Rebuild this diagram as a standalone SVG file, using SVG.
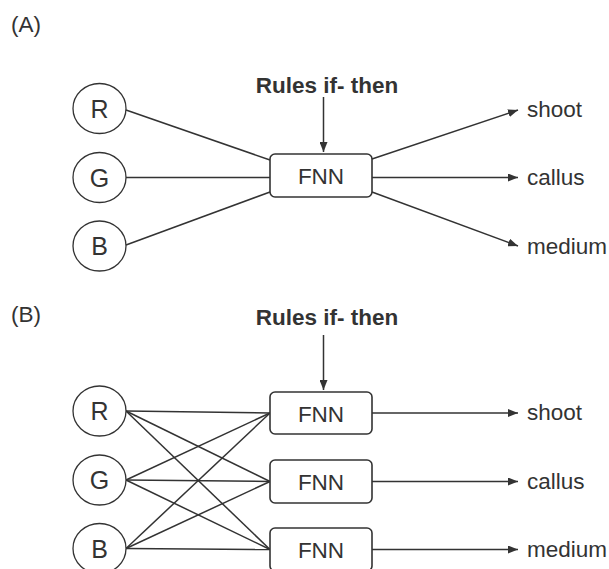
<svg xmlns="http://www.w3.org/2000/svg" width="609" height="569" viewBox="0 0 609 569">
  <defs>
    <marker id="arrow" markerWidth="10" markerHeight="8" refX="10" refY="4" orient="auto" markerUnits="userSpaceOnUse">
      <path d="M0,0 L10,4 L0,8 z" fill="#333"/>
    </marker>
    <style>
      text { font-family: "Liberation Sans", Arial, sans-serif; fill: #333; }
      .lbl { font-size: 22.5px; }
      .head { font-size: 22.5px; font-weight: bold; text-anchor: middle; }
      .inp ellipse { fill: #fff; stroke: #333; stroke-width: 1.3; }
      .inp text { font-size: 25px; text-anchor: middle; }
      .fnn rect { fill: #fff; stroke: #333; stroke-width: 1.6; }
      .fnn text { font-size: 22.5px; text-anchor: middle; }
      .conn line { stroke: #333; stroke-width: 1.5; fill: none; }
      .conn .arr { marker-end: url(#arrow); }
    </style>
  </defs>
  <rect width="609" height="569" fill="#fff"/>

  <!-- Panel A: single fuzzy network -->
  <text class="lbl" x="11" y="32">(A)</text>
  <text class="head" x="327" y="93">Rules if- then</text>

  <g id="connectors-a" class="conn">
    <line class="arr" x1="323.5" y1="97" x2="323.5" y2="152"/>
    <line x1="126" y1="110" x2="270" y2="160"/>
    <line x1="126" y1="177.5" x2="270" y2="177.5"/>
    <line x1="126" y1="245" x2="270" y2="192"/>
    <line class="arr" x1="372" y1="159" x2="518" y2="110"/>
    <line class="arr" x1="372" y1="177.5" x2="518" y2="177.5"/>
    <line class="arr" x1="372" y1="192" x2="518" y2="246"/>
  </g>

  <g id="a-r" class="inp"><ellipse cx="99.5" cy="108.5" rx="26.5" ry="25"/><text x="99.5" y="117.5">R</text></g>
  <g id="a-g" class="inp"><ellipse cx="99.5" cy="177.5" rx="26.5" ry="25"/><text x="99.5" y="186.5">G</text></g>
  <g id="a-b" class="inp"><ellipse cx="99.5" cy="246" rx="26.5" ry="25"/><text x="99.5" y="255">B</text></g>

  <g id="a-fnn" class="fnn"><rect x="270" y="154" width="102" height="43" rx="5"/><text x="321" y="184">FNN</text></g>

  <text id="a-shoot" class="lbl" x="527" y="117">shoot</text>
  <text id="a-callus" class="lbl" x="527" y="185">callus</text>
  <text id="a-medium" class="lbl" x="527" y="254">medium</text>

  <!-- Panel B: one fuzzy network per output -->
  <text class="lbl" x="11" y="322">(B)</text>
  <text class="head" x="327" y="325">Rules if- then</text>

  <g id="connectors-b" class="conn">
    <line class="arr" x1="323.5" y1="335" x2="323.5" y2="390"/>
    <line x1="126" y1="411" x2="270" y2="413"/>
    <line x1="126" y1="411" x2="270" y2="481.5"/>
    <line x1="126" y1="411" x2="270" y2="549.5"/>
    <line x1="126" y1="480" x2="270" y2="413"/>
    <line x1="126" y1="480" x2="270" y2="481.5"/>
    <line x1="126" y1="480" x2="270" y2="549.5"/>
    <line x1="126" y1="548.5" x2="270" y2="413"/>
    <line x1="126" y1="548.5" x2="270" y2="481.5"/>
    <line x1="126" y1="548.5" x2="270" y2="549.5"/>
    <line class="arr" x1="372" y1="413" x2="518" y2="413"/>
    <line class="arr" x1="372" y1="481.5" x2="518" y2="481.5"/>
    <line class="arr" x1="372" y1="549.5" x2="518" y2="549.5"/>
  </g>

  <g id="b-r" class="inp"><ellipse cx="99.5" cy="411" rx="26.5" ry="25"/><text x="99.5" y="420">R</text></g>
  <g id="b-g" class="inp"><ellipse cx="99.5" cy="480" rx="26.5" ry="25"/><text x="99.5" y="489">G</text></g>
  <g id="b-b" class="inp"><ellipse cx="99.5" cy="548.5" rx="26.5" ry="25"/><text x="99.5" y="557.5">B</text></g>

  <g id="b-fnn1" class="fnn"><rect x="270" y="392" width="102" height="42" rx="5"/><text x="321" y="421.5">FNN</text></g>
  <g id="b-fnn2" class="fnn"><rect x="270" y="460" width="102" height="43" rx="5"/><text x="321" y="490">FNN</text></g>
  <g id="b-fnn3" class="fnn"><rect x="270" y="528" width="102" height="43" rx="5"/><text x="321" y="558">FNN</text></g>

  <text id="b-shoot" class="lbl" x="527" y="420">shoot</text>
  <text id="b-callus" class="lbl" x="527" y="489">callus</text>
  <text id="b-medium" class="lbl" x="527" y="557">medium</text>
</svg>
